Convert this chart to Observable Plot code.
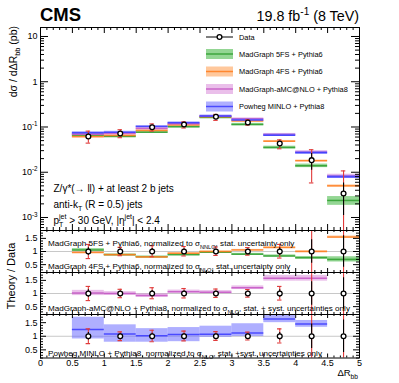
<!DOCTYPE html>
<html><head><meta charset="utf-8">
<script src="https://cdn.jsdelivr.net/npm/d3@7"></script>
<script src="https://cdn.jsdelivr.net/npm/@observablehq/plot@0.6"></script>
<style>
html,body{margin:0;padding:0;background:#fff;}
#wrap{position:relative;width:399px;height:383px;overflow:hidden;background:#fff;font-family:"Liberation Sans",Arial,Helvetica,sans-serif;}
</style></head><body><div id="wrap"></div>
<script>
// ---------------- data ----------------
const binLo  = [0.5, 1.0, 1.5, 2.0, 2.5, 3.0, 3.5, 4.0, 4.5];
const binHi  = [1.0, 1.5, 2.0, 2.5, 3.0, 3.5, 4.0, 4.5, 5.0];
const binMid = [0.75, 1.25, 1.75, 2.25, 2.75, 3.25, 3.75, 4.25, 4.75];

// measured cross section (pb) and uncertainty bounds
const dataXsec   = [0.0617, 0.0718, 0.099, 0.1135, 0.168, 0.126, 0.0432, 0.0185, 0.0034];
const dataTotLo  = [0.044, 0.058, 0.081, 0.095, 0.140, 0.110, 0.033, 0.0058, 0.00001];
const dataTotHi  = [0.081, 0.087, 0.117, 0.130, 0.190, 0.145, 0.052, 0.0315, 0.0107];
const dataStatLo = [0.054, 0.065, 0.089, 0.104, 0.156, 0.117, 0.038, 0.011, 0.0011];
const dataStatHi = [0.070, 0.079, 0.109, 0.123, 0.180, 0.135, 0.048, 0.026, 0.0058];

// theory predictions (pb) and relative band half-widths (main panel)
const mg5fs     = [0.066, 0.062, 0.077, 0.101, 0.163, 0.1135, 0.0352, 0.0139, 0.00238];
const mg5fsUnc  = [0.08, 0.05, 0.05, 0.05, 0.05, 0.06, 0.07, 0.09, 0.22];
const mg4fs     = [0.061, 0.065, 0.084, 0.110, 0.168, 0.135, 0.0485, 0.0179, 0.0050];
const mg4fsUnc  = [0.03, 0.03, 0.03, 0.03, 0.03, 0.03, 0.04, 0.04, 0.05];
const amcnlo    = [0.069, 0.072, 0.093, 0.118, 0.172, 0.152, 0.068, 0.028, 0.0083];
const amcnloUnc = [0.06, 0.05, 0.05, 0.05, 0.05, 0.05, 0.06, 0.07, 0.09];
const powheg    = [0.0745, 0.0767, 0.1026, 0.124, 0.175, 0.143, 0.0659, 0.027, 0.0079];
const powhegUnc = [0.06, 0.05, 0.05, 0.05, 0.05, 0.05, 0.06, 0.07, 0.08];

// theory / data ratios
const r5fs     = [1.06, 0.88, 0.80, 0.88, 0.97, 0.90, 0.83, 0.76, 0.70];
const r5fsUnc  = [0.05, 0.03, 0.03, 0.03, 0.03, 0.03, 0.04, 0.05, 0.10];
const r4fs     = [0.96, 0.88, 0.79, 0.93, 1.00, 1.06, 1.15, 1.00, 1.55];
const r4fsUnc  = [0.02, 0.02, 0.02, 0.02, 0.02, 0.02, 0.03, 0.03, 0.04];
const rAmc     = [1.02, 1.00, 0.92, 1.07, 1.05, 1.22, 1.58, 1.58, 2.30];
const rAmcUnc  = [0.10, 0.07, 0.07, 0.06, 0.06, 0.07, 0.11, 0.11, 0.15];
const rPow     = [1.25, 1.08, 1.02, 1.06, 1.07, 1.12, 1.63, 1.45, 2.30];
const rPowLo   = [0.90, 0.78, 0.78, 0.80, 0.96, 0.99, 1.50, 1.33, 2.00];
const rPowHi   = [1.70, 1.42, 1.28, 1.32, 1.37, 1.46, 1.80, 1.58, 2.60];

const rDataTotLo  = [0.73, 0.84, 0.80, 0.83, 0.85, 0.86, 0.75, 0.00, 0.00];
const rDataTotHi  = [1.27, 1.16, 1.22, 1.19, 1.17, 1.15, 1.27, 3.00, 3.00];
const rDataStatLo = [0.86, 0.91, 0.89, 0.90, 0.92, 0.92, 0.86, 0.55, 0.40];
const rDataStatHi = [1.14, 1.09, 1.11, 1.10, 1.08, 1.08, 1.14, 1.45, 1.60];

// axis ticks / labels
const xTickLabels = [0, 0.5, 1, 1.5, 2, 2.5, 3, 3.5, 4, 4.5, 5];
const mainYTicks  = [0.001, 0.01, 0.1, 1, 10];
const mainYLabels = ["10^{-3}", "10^{-2}", "10^{-1}", "1", "10"];
const ratioYTicks = [0.5, 1, 1.5];

const legendLabels = ["MadGraph 5FS + Pythia6", "MadGraph 4FS + Pythia6", "MadGraph-aMC@NLO + Pythia8", "Powheg MINLO + Pythia8"];

// ---------------- layout / style ----------------
const FONT = '"Liberation Sans", Arial, Helvetica, sans-serif';
const W = 399, ML = 40, MR = 40, FW = W - ML - MR;
const RED = "#e03a3a";
const C = {
  green:  {line: "#2e9e2e", band: "#3cb43c"},
  orange: {line: "#ff7b1c", band: "#ff9a4a"},
  violet: {line: "#c455c4", band: "#d98ad9"},
  blue:   {line: "#3838ff", band: "#6d6dff"}
};
const BAND_OP = 0.55;
const RATIO_DOMAIN = [0.2, 1.8];

const rows = binLo.map((lo, i) => ({lo, hi: binHi[i], mid: binMid[i]}));
const xMinor = d3.range(0, 5.001, 0.1).map(v => +v.toFixed(2)).filter(v => !xTickLabels.includes(v));
const style = {fontFamily: FONT, fontSize: "9px", background: "transparent", overflow: "visible", color: "#000"};

function frameTicks(fh, yMajor, yMinor, t) {
  return [
    Plot.ruleX(xTickLabels, {insetTop: fh - t.xM, stroke: "#000"}),
    Plot.ruleX(xTickLabels, {insetBottom: fh - t.xM, stroke: "#000"}),
    Plot.ruleX(xMinor, {insetTop: fh - t.xm, stroke: "#000"}),
    Plot.ruleX(xMinor, {insetBottom: fh - t.xm, stroke: "#000"}),
    Plot.ruleY(yMajor, {insetRight: FW - t.yM, stroke: "#000"}),
    Plot.ruleY(yMajor, {insetLeft: FW - t.yM, stroke: "#000"}),
    Plot.ruleY(yMinor, {insetRight: FW - t.ym, stroke: "#000"}),
    Plot.ruleY(yMinor, {insetLeft: FW - t.ym, stroke: "#000"})
  ];
}

function dataMarks(yv, lo, hi, slo, shi) {
  return [
    Plot.ruleX(rows, {x: "mid", y1: (d, i) => lo[i], y2: (d, i) => hi[i], stroke: RED, strokeWidth: 1.1, clip: true}),
    Plot.ruleY(rows, {y: (d, i) => lo[i], x1: d => d.mid - 0.035, x2: d => d.mid + 0.035, stroke: RED, strokeWidth: 1.1, clip: true}),
    Plot.ruleY(rows, {y: (d, i) => hi[i], x1: d => d.mid - 0.035, x2: d => d.mid + 0.035, stroke: RED, strokeWidth: 1.1, clip: true}),
    Plot.ruleX(rows, {x: "mid", y1: (d, i) => slo[i], y2: (d, i) => shi[i], stroke: "#000", strokeWidth: 1.1, clip: true}),
    Plot.dot(rows, {x: "mid", y: (d, i) => yv[i], r: 2.4, stroke: "#000", fill: "#fff", strokeWidth: 1.3, clip: true})
  ];
}

function bandMarks(v, lo, hi, col) {
  return [
    Plot.rect(rows, {x1: "lo", x2: "hi", y1: (d, i) => lo[i], y2: (d, i) => hi[i], fill: col.band, fillOpacity: BAND_OP, clip: true}),
    Plot.ruleY(rows, {x1: "lo", x2: "hi", y: (d, i) => v[i], stroke: col.line, strokeWidth: 1.5, strokeOpacity: 0.85, clip: true})
  ];
}
const relLo = (v, u) => v.map((x, i) => x * (1 - u[i]));
const relHi = (v, u) => v.map((x, i) => x * (1 + u[i]));
const absLo = (v, u) => v.map((x, i) => x - u[i]);
const absHi = (v, u) => v.map((x, i) => x + u[i]);

const panelText = (s, dy, fs) => Plot.text([s], {frameAnchor: "top-left", textAnchor: "start", dx: 7.5, dy, fontSize: fs || 8.1, fill: "#000"});

// ---------------- main panel ----------------
const mainTop = 27, mainBot = 230;
const logScale = d3.scaleLog().domain([5.16e-4, 15.8]);
const mainMinor = logScale.ticks().filter(v => !mainYTicks.some(t => Math.abs(t - v) / t < 1e-6));
const mainPlot = Plot.plot({
  width: W, height: mainBot, marginTop: mainTop, marginBottom: 0, marginLeft: ML, marginRight: MR,
  style,
  x: {domain: [0, 5], axis: null},
  y: {type: "log", domain: [5.16e-4, 15.8]},
  marks: [
    ...bandMarks(mg5fs, relLo(mg5fs, mg5fsUnc), relHi(mg5fs, mg5fsUnc), C.green),
    ...bandMarks(mg4fs, relLo(mg4fs, mg4fsUnc), relHi(mg4fs, mg4fsUnc), C.orange),
    ...bandMarks(amcnlo, relLo(amcnlo, amcnloUnc), relHi(amcnlo, amcnloUnc), C.violet),
    ...bandMarks(powheg, relLo(powheg, powhegUnc), relHi(powheg, powhegUnc), C.blue),
    ...dataMarks(dataXsec, dataTotLo, dataTotHi, dataStatLo, dataStatHi),
    ...frameTicks(mainBot - mainTop, mainYTicks, mainMinor, {xM: 6, xm: 3, yM: 8, ym: 4}),
    Plot.frame({stroke: "#000"}),
    Plot.axisY({ticks: mainYTicks, tickFormat: (d, i) => mainYLabels[mainYTicks.indexOf(d)], tickSize: 0, tickPadding: 3, label: null, fontSize: 9}),
    Plot.text(["Z/\u03b3*(\u2192 ll) + at least 2 b jets"], {frameAnchor: "top-left", textAnchor: "start", dx: 13, dy: 157, fontSize: 10}),
    Plot.text(["anti-k_{T} (R = 0.5) jets"], {frameAnchor: "top-left", textAnchor: "start", dx: 13, dy: 173, fontSize: 10}),
    Plot.text(["p_{T}^{jet} > 30 GeV, |\u03b7^{jet}| < 2.4"], {frameAnchor: "top-left", textAnchor: "start", dx: 13, dy: 189, fontSize: 10})
  ]
});

// ---------------- ratio panels ----------------
const ratioMinor = d3.range(0.2, 1.801, 0.1).map(v => +v.toFixed(2)).filter(v => !ratioYTicks.includes(v));
function ratioPanel(top, bottom, height, modelMarks, texts, withX) {
  const marks = [
    Plot.ruleY([1], {stroke: "#c8c8c8", strokeWidth: 1}),
    ...modelMarks,
    ...dataMarks(rows.map(() => 1), rDataTotLo, rDataTotHi, rDataStatLo, rDataStatHi),
    ...frameTicks(bottom - top, ratioYTicks, ratioMinor, {xM: 4, xm: 2, yM: 6, ym: 3}),
    Plot.frame({stroke: "#000"}),
    Plot.axisY({ticks: ratioYTicks, tickFormat: d => String(d), tickSize: 0, tickPadding: 3, label: null, fontSize: 9}),
    ...texts
  ];
  if (withX) marks.push(Plot.axisX({ticks: xTickLabels, tickFormat: d => String(d), tickSize: 0, tickPadding: 2, label: null, fontSize: 9}));
  return Plot.plot({
    width: W, height, marginTop: top, marginBottom: height - bottom, marginLeft: ML, marginRight: MR,
    style,
    x: withX ? {domain: [0, 5]} : {domain: [0, 5], axis: null},
    y: {domain: RATIO_DOMAIN},
    marks
  });
}

const p1 = ratioPanel(230, 272, 272, [
  ...bandMarks(r5fs, absLo(r5fs, r5fsUnc), absHi(r5fs, r5fsUnc), C.green),
  ...bandMarks(r4fs, absLo(r4fs, r4fsUnc), absHi(r4fs, r4fsUnc), C.orange)
], [
  panelText("MadGraph 5FS + Pythia6, normalized to \u03c3_{NNLO}, stat. uncertainty only", 10),
  panelText("MadGraph 4FS + Pythia6, normalized to \u03c3_{NLO}, stat. uncertainty only", 33)
], false);

const p2 = ratioPanel(272, 314, 314, [
  ...bandMarks(rAmc, absLo(rAmc, rAmcUnc), absHi(rAmc, rAmcUnc), C.violet)
], [
  panelText("MadGraph-aMC@NLO + Pythia8, normalized to \u03c3_{NLO}, stat. + syst. uncertainties only", 33)
], false);

const p3 = ratioPanel(314, 357.5, 383, [
  ...bandMarks(rPow, rPowLo, rPowHi, C.blue)
], [
  panelText("Powheg MINLO + Pythia8, normalized to \u03c3_{NLO}, stat. +syst. uncertainties only", 36)
], true);

const wrap = document.getElementById("wrap");
for (const s of [mainPlot, p1, p2, p3]) {
  s.style.position = "absolute"; s.style.left = "0px"; s.style.top = "0px";
  wrap.appendChild(s);
}

// ---------------- overlay: titles, axis titles, legend ----------------
const ov = d3.select(wrap).append("svg")
  .attr("width", W).attr("height", 383)
  .style("position", "absolute").style("left", "0px").style("top", "0px")
  .style("font-family", FONT).style("overflow", "visible");

ov.append("text").attr("x", 40).attr("y", 20.7).attr("font-size", 18.5).attr("font-weight", "bold").text("CMS");
ov.append("text").attr("x", 359).attr("y", 20.7).attr("font-size", 14.3).attr("text-anchor", "end").text("19.8 fb^{-1} (8 TeV)");
ov.append("text").attr("transform", "translate(13,26) rotate(-90)").attr("text-anchor", "end")
  .attr("dy", "0.35em").attr("font-size", 10.5).text("d\u03c3 / d\u0394R_{bb} (pb)");
ov.append("text").attr("transform", "translate(11,276) rotate(-90)").attr("text-anchor", "middle")
  .attr("dy", "0.35em").attr("font-size", 11).text("Theory / Data");
ov.append("text").attr("x", 358).attr("y", 376).attr("text-anchor", "end").attr("font-size", 9.5).text("\u0394R_{bb}");

// legend
const lg = ov.append("g");
lg.append("line").attr("x1", 206).attr("x2", 233).attr("y1", 37).attr("y2", 37).attr("stroke", "#000").attr("stroke-width", 1);
lg.append("circle").attr("cx", 219.5).attr("cy", 37).attr("r", 2.4).attr("fill", "#fff").attr("stroke", "#000").attr("stroke-width", 1.3);
lg.append("text").attr("x", 239).attr("y", 37).attr("dy", "0.35em").attr("font-size", 7.4).text("Data");
const lgCols = [C.green, C.orange, C.violet, C.blue];
const lgY = [54, 71.5, 89, 106.5];
legendLabels.forEach((lab, i) => {
  lg.append("rect").attr("x", 206).attr("y", lgY[i] - 5).attr("width", 27).attr("height", 10)
    .attr("fill", lgCols[i].band).attr("fill-opacity", BAND_OP);
  lg.append("line").attr("x1", 206).attr("x2", 233).attr("y1", lgY[i]).attr("y2", lgY[i])
    .attr("stroke", lgCols[i].line).attr("stroke-width", 1.5).attr("stroke-opacity", 0.85);
  lg.append("text").attr("x", 239).attr("y", lgY[i]).attr("dy", "0.35em").attr("font-size", 7.4).text(lab);
});

// ---------------- rich text (sub/superscripts) ----------------
function rich(el) {
  const s = el.textContent;
  if (!/[_^]\{/.test(s)) return;
  const fs = parseFloat(getComputedStyle(el).fontSize) || 9;
  const toks = [];
  const re = /([_^])\{([^}]*)\}/g;
  let last = 0, m;
  while ((m = re.exec(s))) {
    if (m.index > last) toks.push({k: "n", s: s.slice(last, m.index)});
    toks.push({k: m[1] === "_" ? "sub" : "sup", s: m[2]});
    last = re.lastIndex;
  }
  if (last < s.length) toks.push({k: "n", s: s.slice(last)});
  while (el.firstChild) el.removeChild(el.firstChild);
  const NS = "http://www.w3.org/2000/svg";
  let cur = 0, prev = null;
  for (const t of toks) {
    const ts = document.createElementNS(NS, "tspan");
    const target = t.k === "sub" ? 0.3 * fs : t.k === "sup" ? -0.42 * fs : 0;
    const dy = target - cur;
    if (Math.abs(dy) > 1e-6) ts.setAttribute("dy", dy.toFixed(2));
    cur = target;
    if (t.k !== "n") ts.setAttribute("font-size", (0.7 * fs).toFixed(2));
    ts.textContent = t.s;
    el.appendChild(ts);
    if (t.k === "sup" && prev && prev.k === "sub") {
      const w = prev.el.getComputedTextLength();
      ts.setAttribute("dx", (-w).toFixed(2));
    }
    prev = {k: t.k, el: ts};
  }
}
wrap.querySelectorAll("text").forEach(rich);
</script>
</body></html>
